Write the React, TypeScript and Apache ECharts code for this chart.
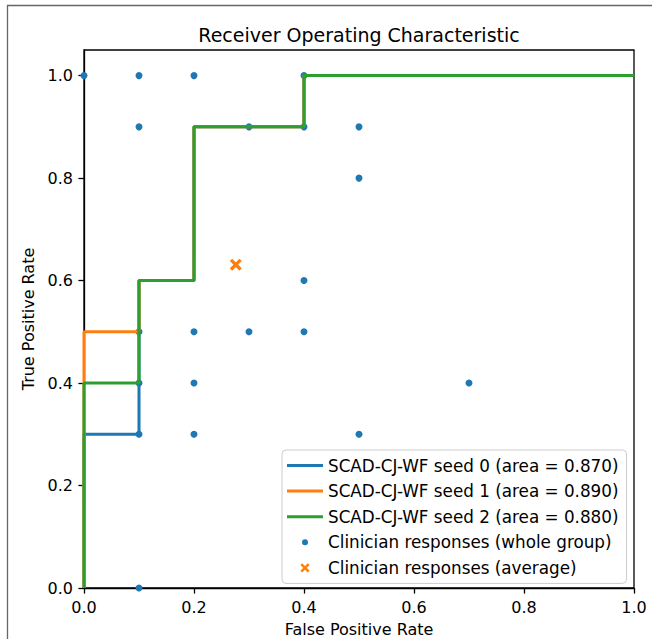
import React, { useEffect, useRef } from "react";
import * as echarts from "echarts";

const titleText = "Receiver Operating Characteristic";
const xAxisName = "False Positive Rate";
const yAxisName = "True Positive Rate";

const seriesNames = [
  "SCAD-CJ-WF seed 0 (area = 0.870)",
  "SCAD-CJ-WF seed 1 (area = 0.890)",
  "SCAD-CJ-WF seed 2 (area = 0.880)",
  "Clinician responses (whole group)",
  "Clinician responses (average)",
];
const seriesColors = ["#1f77b4", "#ff7f0e", "#2ca02c", "#1f77b4", "#ff7f0e"];

const rocFpr0 = [0, 0, 0.1, 0.1, 0.2, 0.2, 0.4, 0.4, 1];
const rocTpr0 = [0, 0.3, 0.3, 0.6, 0.6, 0.9, 0.9, 1, 1];
const rocFpr1 = [0, 0, 0.1, 0.1, 0.2, 0.2, 0.4, 0.4, 1];
const rocTpr1 = [0, 0.5, 0.5, 0.6, 0.6, 0.9, 0.9, 1, 1];
const rocFpr2 = [0, 0, 0.1, 0.1, 0.2, 0.2, 0.4, 0.4, 1];
const rocTpr2 = [0, 0.4, 0.4, 0.6, 0.6, 0.9, 0.9, 1, 1];

const clinicianFpr = [0, 0.1, 0.2, 0.4, 0.1, 0.3, 0.4, 0.5, 0.5, 0.4, 0.1, 0.2, 0.3, 0.4, 0.1, 0.2, 0.7, 0.1, 0.2, 0.5, 0.1];
const clinicianTpr = [1, 1, 1, 1, 0.9, 0.9, 0.9, 0.9, 0.8, 0.6, 0.5, 0.5, 0.5, 0.5, 0.4, 0.4, 0.4, 0.3, 0.3, 0.3, 0];

const averageFpr = [0.276];
const averageTpr = [0.631];

const xTicks = [0, 0.2, 0.4, 0.6, 0.8, 1.0];
const yTicks = [0, 0.2, 0.4, 0.6, 0.8, 1.0];

const FONT = "DejaVu Sans";

const xPath =
  "path://M-3.0,-5.0L5.0,3.0L3.0,5.0L-5.0,-3.0Z M-3.0,5.0L-5.0,3.0L3.0,-5.0L5.0,-3.0Z";
const legendLine = "path://M-18,-6M18,6M-18,-1.5H18V1.5H-18Z";
const legendDot = "path://M-18,-6M18,6M-3,0a3,3 0 1,0 6,0a3,3 0 1,0 -6,0Z";
const legendX =
  "path://M-18,-6M18,6M-2.8,-4.6L4.6,2.8L2.8,4.6L-4.6,-2.8Z M-2.8,4.6L-4.6,2.8L2.8,-4.6L4.6,-2.8Z";

const zip = (a: number[], b: number[]) => a.map((v, i) => [v, b[i]]);

export default function App() {
  const ref = useRef<HTMLDivElement>(null);
  useEffect(() => {
    const chart = echarts.init(ref.current!, null, { renderer: "svg" });
    const rocX = [rocFpr0, rocFpr1, rocFpr2];
    const rocY = [rocTpr0, rocTpr1, rocTpr2];
    const option: any = {
      animation: false,
      textStyle: { fontFamily: FONT },
      title: {
        text: titleText,
        left: 359,
        textAlign: "center",
        top: 25,
        padding: 0,
        textStyle: { fontSize: 19, fontWeight: "normal", color: "#000", fontFamily: FONT },
      },
      graphic: [
        {
          type: "rect",
          silent: true,
          shape: { x: 7.5, y: 5.5, width: 1000, height: 1000 },
          style: { fill: "none", stroke: "#666", lineWidth: 1.3 },
          z: -10,
        },
      ],
      grid: {
        left: 84,
        right: 18,
        top: 50,
        bottom: 51,
        containLabel: false,
        outerBoundsMode: "none",
        show: true,
        borderColor: "#000",
        borderWidth: 1.3,
        backgroundColor: "transparent",
      },
      xAxis: {
        type: "value",
        min: 0,
        max: 1,
        interval: 0.2,
        name: xAxisName,
        nameLocation: "middle",
        nameGap: 33.5,
        nameTextStyle: { fontSize: 16, color: "#000", fontFamily: FONT },
        axisLine: { show: true, lineStyle: { color: "#000", width: 1.3 } },
        axisTick: { show: true, length: 5.6, lineStyle: { color: "#000", width: 1.3 }, customValues: xTicks },
        axisLabel: {
          margin: 11,
          fontSize: 16,
          color: "#000",
          fontFamily: FONT,
          customValues: xTicks,
          formatter: (v: number) => v.toFixed(1),
        },
        splitLine: { show: false },
      },
      yAxis: {
        type: "value",
        min: 0,
        max: 1.05,
        interval: 0.2,
        name: yAxisName,
        nameLocation: "middle",
        nameGap: 41,
        nameTextStyle: { fontSize: 16, color: "#000", fontFamily: FONT },
        axisLine: { show: true, lineStyle: { color: "#000", width: 1.3 } },
        axisTick: { show: true, length: 5.6, lineStyle: { color: "#000", width: 1.3 }, customValues: yTicks },
        axisLabel: {
          margin: 11,
          fontSize: 16,
          color: "#000",
          fontFamily: FONT,
          customValues: yTicks,
          formatter: (v: number) => (v > 1.0001 ? "" : v.toFixed(1)),
        },
        splitLine: { show: false },
      },
      legend: {
        orient: "vertical",
        left: 282,
        top: 450,
        padding: [7, 8, 7, 5],
        itemGap: 8.6,
        itemWidth: 36,
        itemHeight: 12,
        itemTextGap: 12,
        backgroundColor: "rgba(255,255,255,0.8)",
        borderColor: "#cccccc",
        borderWidth: 1,
        borderRadius: 4,
        textStyle: { fontSize: 16.8, color: "#000", fontFamily: FONT },
        data: [
          { name: seriesNames[0], icon: legendLine },
          { name: seriesNames[1], icon: legendLine },
          { name: seriesNames[2], icon: legendLine },
          { name: seriesNames[3], icon: legendDot },
          { name: seriesNames[4], icon: legendX },
        ],
      },
      series: [
        ...[0, 1, 2].map((i) => ({
          name: seriesNames[i],
          type: "line",
          data: zip(rocX[i], rocY[i]),
          symbol: "none",
          showSymbol: false,
          lineStyle: { width: 3, color: seriesColors[i] },
          itemStyle: { color: seriesColors[i] },
          z: 3 + i * 0.01,
        })),
        {
          name: seriesNames[3],
          type: "scatter",
          data: zip(clinicianFpr, clinicianTpr),
          symbol: "circle",
          symbolSize: 7,
          itemStyle: { color: seriesColors[3], opacity: 1 },
          z: 2,
        },
        {
          name: seriesNames[4],
          type: "scatter",
          data: zip(averageFpr, averageTpr),
          symbol: xPath,
          symbolSize: 12,
          itemStyle: { color: seriesColors[4], opacity: 1 },
          z: 2,
        },
      ],
    };
    chart.setOption(option);
    return () => chart.dispose();
  }, []);
  return (
    <div
      ref={ref}
      style={{ position: "absolute", left: 0, top: 0, width: 652, height: 639 }}
    />
  );
}
